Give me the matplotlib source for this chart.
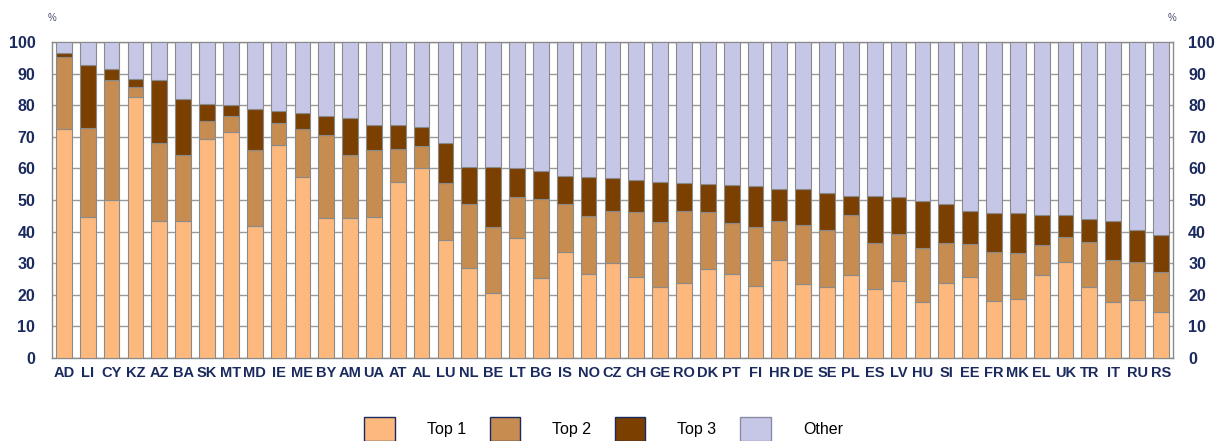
import matplotlib
matplotlib.use("Agg")
import matplotlib.pyplot as plt
import numpy as np
from matplotlib.patches import Patch

plt.rcParams['font.family'] = ['Liberation Sans', 'DejaVu Sans']

countries = ["AD", "LI", "CY", "KZ", "AZ", "BA", "SK", "MT", "MD", "IE", "ME", "BY",
             "AM", "UA", "AT", "AL", "LU", "NL", "BE", "LT", "BG", "IS", "NO", "CZ",
             "CH", "GE", "RO", "DK", "PT", "FI", "HR", "DE", "SE", "PL", "ES", "LV",
             "HU", "SI", "EE", "FR", "MK", "EL", "UK", "TR", "IT", "RU", "RS"]

top1 = [72.3, 44.5, 50.0, 82.6, 43.2, 43.2, 69.3, 71.5, 41.8, 67.5, 57.4, 44.2,
        44.4, 44.7, 55.8, 60.2, 37.4, 28.6, 20.7, 38.1, 25.3, 33.4, 26.5, 30.2,
        25.7, 22.6, 23.9, 28.1, 26.5, 22.8, 31.1, 23.3, 22.6, 26.2, 22.0, 24.4,
        17.8, 23.6, 25.7, 18.2, 18.7, 26.3, 30.4, 22.4, 17.8, 18.5, 14.5]
top2 = [23.0, 28.3, 37.9, 3.0, 24.9, 21.0, 5.6, 5.1, 24.0, 6.9, 14.9, 26.4,
        19.9, 21.0, 10.3, 7.0, 18.0, 20.2, 20.8, 12.8, 24.9, 15.4, 18.4, 16.4,
        20.5, 20.5, 22.6, 18.1, 16.1, 18.7, 12.4, 18.8, 18.0, 18.9, 14.4, 14.7,
        17.0, 12.9, 10.4, 15.2, 14.4, 9.6, 7.9, 14.3, 13.3, 11.8, 12.7]
top3 = [1.2, 20.0, 3.4, 2.8, 19.8, 17.7, 5.4, 3.5, 13.1, 3.8, 5.1, 6.1,
        11.7, 8.0, 7.6, 6.0, 12.7, 11.7, 18.8, 9.3, 9.0, 8.9, 12.3, 10.2,
        10.1, 12.7, 8.8, 8.9, 12.1, 13.0, 9.9, 11.3, 11.7, 6.3, 14.9, 12.0,
        14.9, 12.1, 10.3, 12.5, 12.8, 9.5, 6.9, 7.4, 12.2, 10.2, 11.6]

other = [100 - a - b - c for a, b, c in zip(top1, top2, top3)]

series = [("Top 1", top1, "#FDB97D"), ("Top 2", top2, "#C68C50"),
          ("Top 3", top3, "#7B3F00"), ("Other", other, "#C6C7E6")]

navy = "#1B2A5E"
fig = plt.figure(figsize=(12.17, 4.41), dpi=100)
ax = fig.add_axes([0.0427, 0.188, 0.921, 0.717])

x = np.arange(len(countries))
bottom = np.zeros(len(countries))
for name, vals, col in series:
    v = np.array(vals)
    ax.bar(x, v, bottom=bottom, width=0.66, color=col, edgecolor="#8A8A8A",
           linewidth=0.8, zorder=3)
    bottom += v

ax.set_xlim(-0.5, len(countries) - 0.5)
ax.set_ylim(0, 100)
ax.set_yticks(range(0, 101, 10))
ax.yaxis.grid(True, color="#9A9A9A", linewidth=1.0, zorder=0)
ax.set_axisbelow(True)
ax.set_xticks(x)
ax.set_xticklabels(countries, fontsize=10.5, fontweight="bold", color=navy)
ax.tick_params(axis="x", length=0, pad=6)
ax.tick_params(axis="y", length=0, pad=12, labelsize=11.5, labelcolor=navy)
for lab in ax.get_yticklabels():
    lab.set_fontweight("bold")
for s in ax.spines.values():
    s.set_color("#8A8A8A")
    s.set_linewidth(1.0)

ax2 = ax.twinx()
ax2.set_ylim(0, 100)
ax2.set_yticks(range(0, 101, 10))
ax2.tick_params(axis="y", length=0, pad=11, labelsize=11.5, labelcolor=navy)
for lab in ax2.get_yticklabels():
    lab.set_fontweight("bold")
for s in ax2.spines.values():
    s.set_visible(False)

fig.text(52 / 1217, 1 - 18 / 441, "%", fontsize=7, color="#4A5070", ha="center", va="center")
fig.text(1172 / 1217, 1 - 18 / 441, "%", fontsize=7, color="#4A5070", ha="center", va="center")

handles = [Patch(facecolor=c, edgecolor="#1B2A5E", linewidth=1.0) for _, _, c in series]
handles[3] = Patch(facecolor=series[3][2], edgecolor="#8A8AA8", linewidth=1.0)
fig.legend(handles, [n for n, _, _ in series], loc="center", ncol=4,
           bbox_to_anchor=(0.496, 1 - 429 / 441), frameon=False, fontsize=11.5,
           handlelength=1.9, handleheight=1.9, handletextpad=2.0, columnspacing=1.5)

fig.savefig("out.png", dpi=100)
